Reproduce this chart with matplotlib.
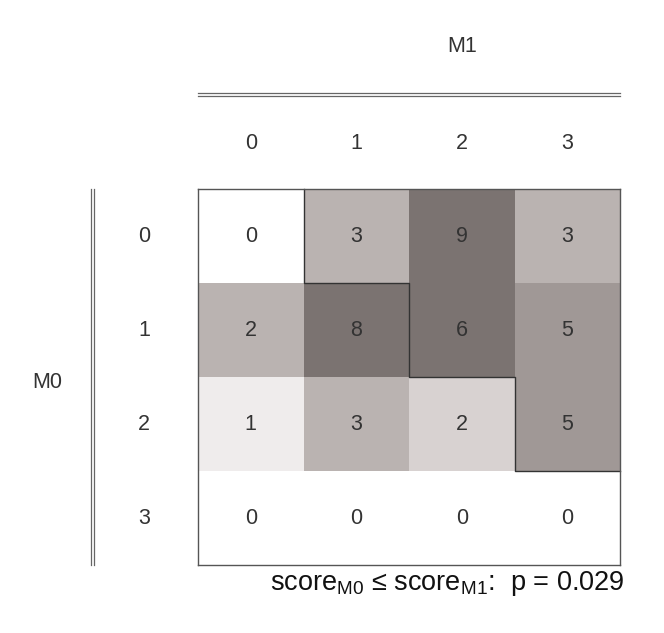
import numpy as np
import matplotlib.pyplot as plt
from matplotlib.colors import ListedColormap
from matplotlib.lines import Line2D

plt.rcParams['font.family'] = ['Liberation Sans', 'DejaVu Sans']
plt.rcParams['mathtext.fontset'] = 'custom'
plt.rcParams['mathtext.rm'] = 'Liberation Sans'

# contingency counts, rows = M0 score, columns = M1 score
m0_levels = ["0", "1", "2", "3"]
m1_levels = ["0", "1", "2", "3"]
counts = [
    [0, 3, 9, 3],
    [2, 8, 6, 5],
    [1, 3, 2, 5],
    [0, 0, 0, 0],
]
# grey level used for each cell
shade = [
    [0, 3, 5, 3],
    [3, 5, 5, 4],
    [1, 3, 2, 4],
    [0, 0, 0, 0],
]
p_value = 0.029

greys = ListedColormap(["#ffffff", "#efecec", "#d8d2d1", "#bab3b1", "#a09896", "#7b7371"])
txt = "#333333"
fs = 15.5

fig = plt.figure(figsize=(6.64, 6.33), dpi=100)
ax = fig.add_axes([198 / 664, 1 - 565 / 633, 422 / 664, 376 / 633])

n_rows, n_cols = len(m0_levels), len(m1_levels)
ax.pcolormesh(np.arange(n_cols + 1), np.arange(n_rows + 1), np.array(shade),
              cmap=greys, vmin=-0.5, vmax=5.5)
ax.set_xlim(0, n_cols)
ax.set_ylim(n_rows, 0)
ax.set_xticks([])
ax.set_yticks([])
for s in ax.spines.values():
    s.set_color("#555555")
    s.set_linewidth(1.0)

# cell counts
for r in range(n_rows):
    for c in range(n_cols):
        ax.text(c + 0.5, r + 0.5, str(counts[r][c]), ha="center", va="center",
                fontsize=fs, color=txt)

# column / row level labels
for c, lab in enumerate(m1_levels):
    ax.text(c + 0.5, 1.122, lab, ha="center", va="center", fontsize=fs, color=txt,
            transform=ax.get_xaxis_transform())
for r, lab in enumerate(m0_levels):
    ax.text(-0.128, r + 0.5, lab, ha="center", va="center", fontsize=fs, color=txt,
            transform=ax.get_yaxis_transform())

# staircase separating cells where M0 < M1
sx, sy = [], []
for r in range(n_rows - 1):
    sx += [r + 1, r + 1]
    sy += [r, r + 1]
sx.append(n_cols)
sy.append(n_rows - 1)
ax.plot(sx, sy, color="#333333", lw=1.0, clip_on=False)

# header labels with double rules
fig.text(462 / 664, 1 - 47 / 633, "M1", ha="center", va="center", fontsize=fs, color=txt)
fig.text(47 / 664, 1 - 383 / 633, "M0", ha="center", va="center", fontsize=fs, color=txt)

px, py = 1 / 664, 1 / 633
for d in (-1.5, 1.5):
    fig.add_artist(Line2D([198 * px, 620 * px], [1 - (94 + d) * py] * 2,
                          color="#666666", lw=0.9))
    fig.add_artist(Line2D([(92 + d) * px] * 2, [1 - 189 * py, 1 - 565 * py],
                          color="#666666", lw=0.9))

fig.text(625 / 664, 1 - 590 / 633,
         r"score$_{\mathrm{M0}}$ ≤ score$_{\mathrm{M1}}$:  p = " + f"{p_value:.3f}",
         ha="right", va="baseline", fontsize=19.5, color="#111111")

fig.savefig("out.png", dpi=100)
